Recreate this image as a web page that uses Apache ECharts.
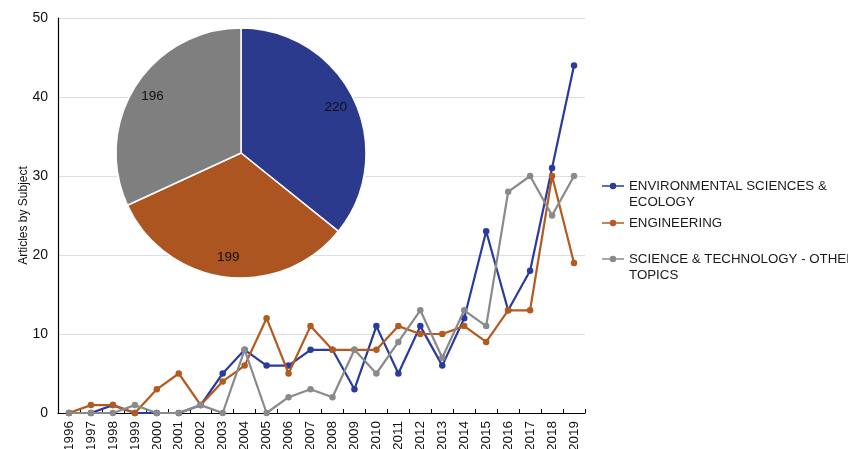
<!DOCTYPE html>
<html><head><meta charset="utf-8">
<script src="https://cdn.jsdelivr.net/npm/echarts@6/dist/echarts.min.js"></script>
<style>html,body{margin:0;padding:0;background:#fff}#c{width:848px;height:449px}</style>
</head><body><div id="c"></div>
<script>
const years = ['1996','1997','1998','1999','2000','2001','2002','2003','2004','2005','2006','2007','2008','2009','2010','2011','2012','2013','2014','2015','2016','2017','2018','2019'];
const envEco = [0,0,1,0,0,0,1,5,8,6,6,8,8,3,11,5,11,6,12,23,13,18,31,44];
const engineering = [0,1,1,0,3,5,1,4,6,12,5,11,8,8,8,11,10,10,11,9,13,13,30,19];
const sciTech = [0,0,0,1,0,0,1,0,8,0,2,3,2,8,5,9,13,7,13,11,28,30,25,30];
const seriesNames = ['ENVIRONMENTAL SCIENCES & ECOLOGY','ENGINEERING','SCIENCE & TECHNOLOGY - OTHER TOPICS'];
const legendTexts = [' \nENVIRONMENTAL SCIENCES &\nECOLOGY','ENGINEERING',' \nSCIENCE & TECHNOLOGY - OTHER\nTOPICS'];
const pieTotals = [220,199,196];
const yTicks = [0,10,20,30,40,50];

const lineColors = ['#2a3b9e','#b35a1f','#8a8a8a'];
const pieColors = ['#2b3a8c','#ad5520','#7f7f7f'];
const seriesData = [envEco, engineering, sciTech];

const chart = echarts.init(document.getElementById('c'));
const font = 'Liberation Sans, Arial, sans-serif';

const legendTops = [157, 210, 230];
const legends = seriesNames.map((n,i)=>({
  orient:'vertical', left:597, top:legendTops[i], data:[n],
  itemWidth:22, itemHeight:8,
  icon:'path://M0,3.2 L22,3.2 L22,4.8 L0,4.8 Z M11,0.8 A3.2,3.2 0 1 1 11,7.2 A3.2,3.2 0 1 1 11,0.8 Z',
  formatter: ()=>legendTexts[i],
  textStyle:{color:'#1a1a1a', fontSize:13.3, fontFamily:font, lineHeight:16},
  itemGap:4, selectedMode:false
}));

const option = {
  backgroundColor:'#ffffff',
  animation:false,
  grid:{left:58, top:18, right:263, bottom:36, outerBoundsMode:'none', containLabel:false},
  legend: legends,
  xAxis:{type:'category', data:years, boundaryGap:true,
    axisLine:{lineStyle:{color:'#000', width:1.2}},
    axisTick:{show:true, inside:true, length:4, lineStyle:{color:'#000'}},
    axisLabel:{rotate:90, fontSize:13.5, color:'#111', fontFamily:font, margin:8, interval:0}
  },
  yAxis:{type:'value', min:yTicks[0], max:yTicks[yTicks.length-1], interval:10,
    name:'Articles by Subject', nameLocation:'middle', nameGap:28, nameMoveOverlap:false,
    nameTextStyle:{fontSize:12, color:'#111', fontFamily:font},
    axisLine:{show:true, lineStyle:{color:'#000', width:1.2}},
    axisTick:{show:false},
    axisLabel:{fontSize:14, color:'#111', fontFamily:font, margin:10},
    splitLine:{lineStyle:{color:'#dcdcea', width:1}}
  },
  series:[
    ...seriesNames.map((n,i)=>({
      name:n, type:'line', data:seriesData[i], symbol:'circle', symbolSize:6.5,
      lineStyle:{width:2.2, color:lineColors[i]}, itemStyle:{color:lineColors[i]},
      z:2+i
    })),
    {type:'pie', center:[241,153], radius:[0,125], startAngle:90, clockwise:true,
     z:10, silent:true, label:{show:false}, labelLine:{show:false},
     itemStyle:{borderColor:'#fff', borderWidth:1.5},
     data: pieTotals.map((v,i)=>({value:v, name:'p'+i, itemStyle:{color:pieColors[i]}}))
    },
    {type:'pie', center:[241,153], radius:[80,124], startAngle:90, clockwise:true,
     z:11, silent:true, labelLine:{show:false},
     label:{show:true, position:'inside', formatter:'{c}', color:'#111', fontSize:13.5, fontFamily:font},
     itemStyle:{color:'rgba(0,0,0,0)'},
     data: pieTotals.map((v,i)=>({value:v, name:'q'+i}))
    }
  ]
};
chart.setOption(option);
</script>
</body></html>
